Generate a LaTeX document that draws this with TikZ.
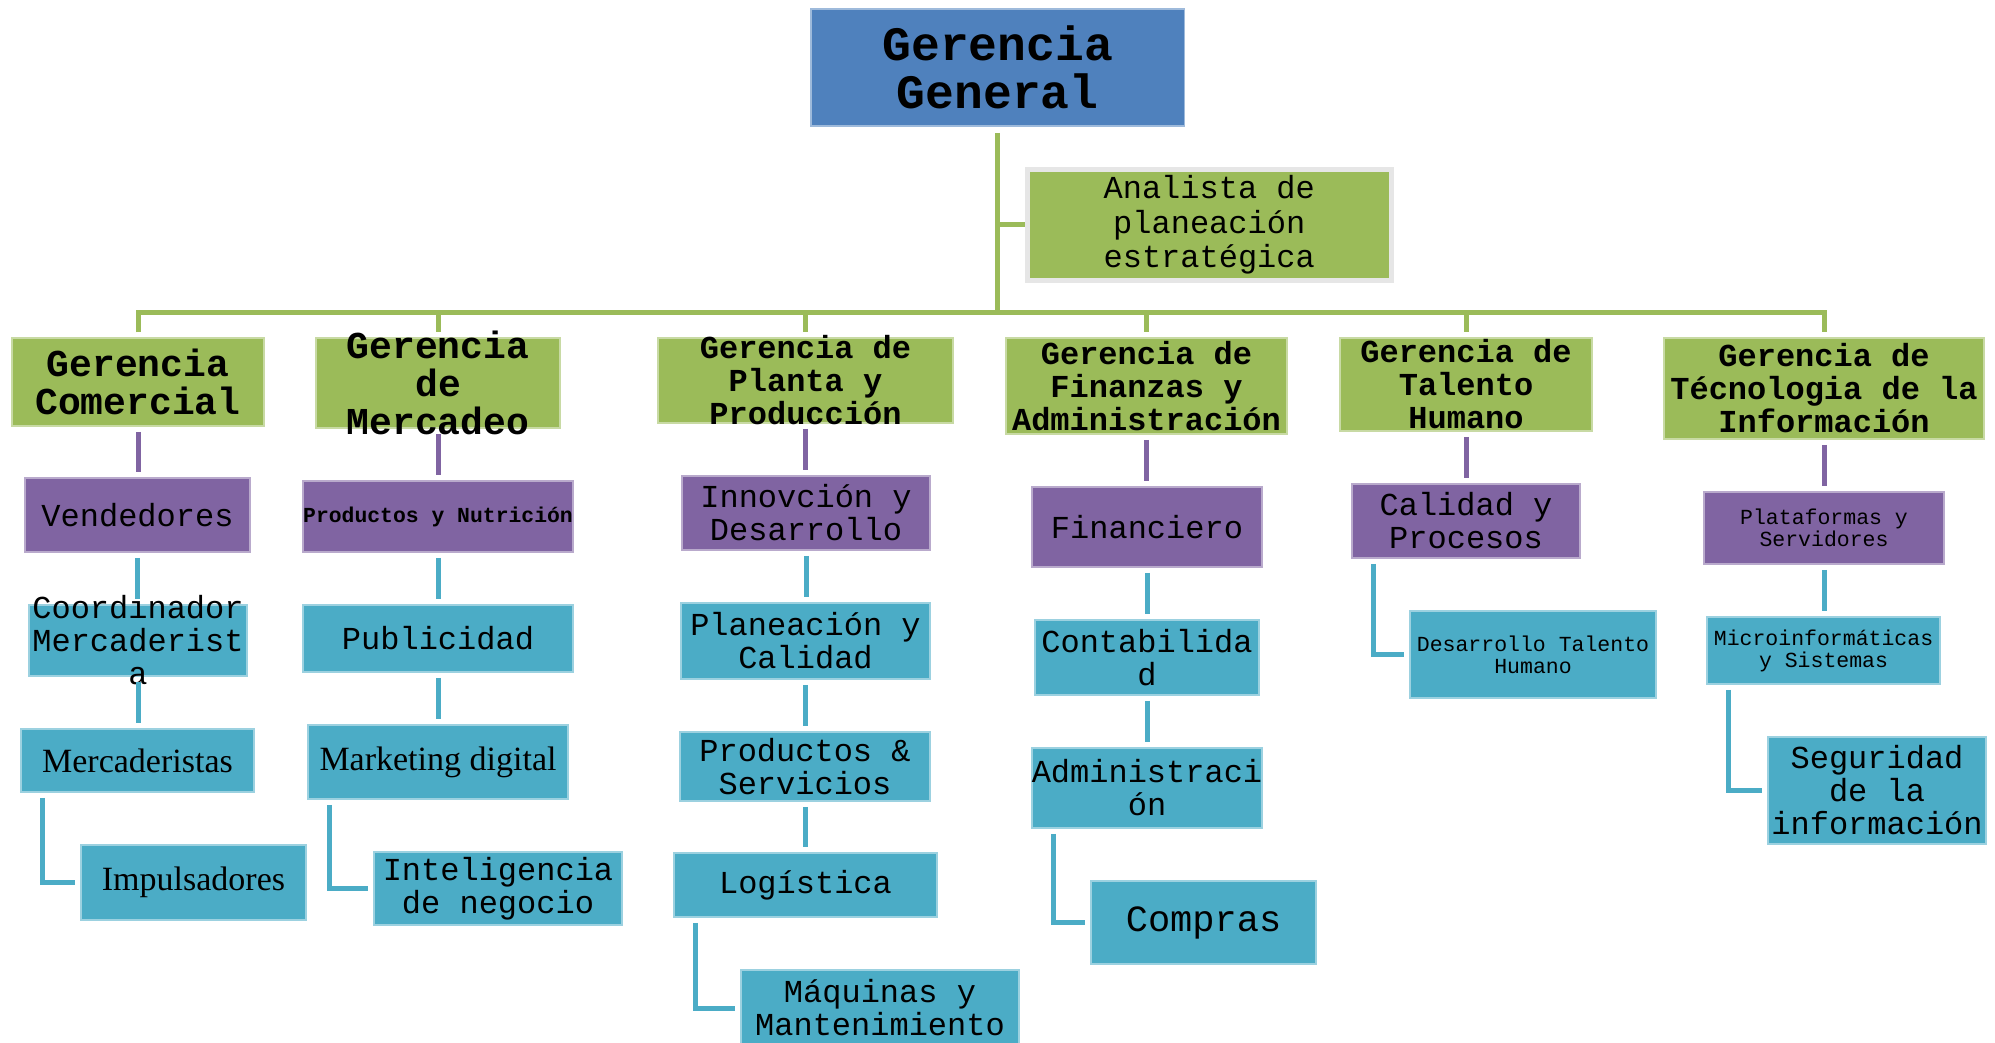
\documentclass[tikz,border=0pt]{standalone}
\usepackage{fontspec}
\setmonofont{Liberation Mono}
\newfontfamily\serifa{Liberation Serif}
\usetikzlibrary{fit}
\definecolor{azul}{HTML}{4F81BD}
\definecolor{verde}{HTML}{9BBB59}
\definecolor{morado}{HTML}{8064A2}
\definecolor{celeste}{HTML}{4BACC6}
\definecolor{gris}{RGB}{230,230,230}
\tikzset{
  caja/.style={rectangle, fill=#1, draw=#1!55!white, line width=1.5pt, inner sep=0pt},
  lv/.style={draw=verde, line width=5pt},
  lm/.style={draw=morado, line width=5pt},
  lc/.style={draw=celeste, line width=5pt},
  tg/.style={font=\ttfamily\bfseries\fontsize{48}{48}\selectfont, align=center},
  tb/.style={font=\ttfamily\bfseries\fontsize{38}{38}\selectfont, align=center},
  tn/.style={font=\ttfamily\bfseries\fontsize{32}{33}\selectfont, align=center},
  tx/.style={font=\ttfamily\fontsize{32}{33}\selectfont, align=center},
  tp/.style={font=\ttfamily\fontsize{21.5}{22}\selectfont, align=center},
  ts/.style={font=\serifa\fontsize{34}{36}\selectfont, align=center}
}
\begin{document}
\begin{tikzpicture}[x=1pt, y=-1pt] %Escala en pixeles, y hacia abajo
  \useasboundingbox (0,0) rectangle (1995,1042);
    %Gerencia general
  \node[caja=azul, fit={(811,9) (1184.5,126)}, label={[tg]center:Gerencia\\General}] (gg) {};
  \node[caja=verde, draw=gris, line width=5pt, fit={(1027.5,169.5) (1391,280)},
        label={[font=\ttfamily\fontsize{32}{34.5}\selectfont, align=center]center:Analista de\\planeación\\estratégica}] (an) {};
    %Gerencias
  \node[caja=verde, fit={(12,338) (264,426)}, label={[tb]center:Gerencia\\Comercial}] (gc) {};
  \node[caja=verde, fit={(316,338) (560,428)}, label={[tb]center:Gerencia\\de\\Mercadeo}] (gme) {};
  \node[caja=verde, fit={(658,338) (953,423)}, label={[tn]center:Gerencia de\\Planta y\\Producción}] (gp) {};
  \node[caja=verde, fit={(1006,338) (1287,434)}, label={[tn]center:Gerencia de\\Finanzas y\\Administración}] (gf) {};
  \node[caja=verde, fit={(1340,338) (1592,431)}, label={[tn]center:Gerencia de\\Talento\\Humano}] (gt) {};
  \node[caja=verde, fit={(1664,338) (1984,439)}, label={[tn]center:Gerencia de\\Técnologia de la\\Información}] (gti) {};
    %Jefaturas
  \node[caja=morado, fit={(25,478) (250,552)}, label={[tx]center:Vendedores}] (ven) {};
  \node[caja=morado, fit={(303,481) (573,552)}, label={[font=\ttfamily\bfseries\fontsize{21.4}{22}\selectfont]center:Productos y Nutrición}] (pn) {};
  \node[caja=morado, fit={(682,476) (930,550)}, label={[tx]center:Innovción y\\Desarrollo}] (inn) {};
  \node[caja=morado, fit={(1032,487) (1262,567)}, label={[tx]center:Financiero}] (fin) {};
  \node[caja=morado, fit={(1352,484) (1580,558)}, label={[tx]center:Calidad y\\Procesos}] (cal) {};
  \node[caja=morado, fit={(1704,492) (1944,564)}, label={[tp]center:Plataformas y\\Servidores}] (pla) {};
    %Cargos
  \node[caja=celeste, fit={(29,605) (247,676)}, label={[tx]center:Coordinador\\Mercaderist\\a}] (coo) {};
  \node[caja=celeste, fit={(21,729) (254,792)}, label={[ts]center:Mercaderistas}] (mer) {};
  \node[caja=celeste, fit={(81,845) (306,920)}, label={[ts]center:Impulsadores}] (imp) {};
  \node[caja=celeste, fit={(303,605) (573,672)}, label={[tx]center:Publicidad}] (pub) {};
  \node[caja=celeste, fit={(308,725) (568,799)}, label={[ts]center:Marketing digital}] (mkt) {};
  \node[caja=celeste, fit={(374,852) (622,925)}, label={[tx]center:Inteligencia\\de negocio}] (int) {};
  \node[caja=celeste, fit={(681,603) (930,679)}, label={[tx]center:Planeación y\\Calidad}] (plc) {};
  \node[caja=celeste, fit={(680,732) (930,801)}, label={[tx]center:Productos \&\\Servicios}] (ps) {};
  \node[caja=celeste, fit={(674,853) (937,917)}, label={[tx]center:Logística}] (log) {};
  \node[caja=celeste, fit={(741,970) (1019,1046)}, label={[tx]center:Máquinas y\\Mantenimiento}] (maq) {};
  \node[caja=celeste, fit={(1035,620) (1259,695)}, label={[tx]center:Contabilida\\d}] (con) {};
  \node[caja=celeste, fit={(1032,748) (1262,828)}, label={[tx]center:Administraci\\ón}] (adm) {};
  \node[caja=celeste, fit={(1091,881) (1316,964)}, label={[font=\ttfamily\fontsize{37}{38}\selectfont]center:Compras}] (com) {};
  \node[caja=celeste, fit={(1410,611) (1656,698)}, label={[tp]center:Desarrollo Talento\\Humano}] (des) {};
  \node[caja=celeste, fit={(1707,617) (1940,684)}, label={[tp]center:Microinformáticas\\y Sistemas}] (mic) {};
  \node[caja=celeste, fit={(1768,737) (1986,844)}, label={[tx]center:Seguridad\\de la\\información}] (seg) {};
    %Conectores verdes
  \coordinate (barra) at (998,312);
  \draw[lv, shorten <=6pt] (gg.south) -- (gg.south |- barra);
  \draw[lv] (gg.south |- an.west) -- (an.west);
  \draw[lv, shorten <=5pt, shorten >=5pt] (gc.north) -- (gc.north |- barra) -- (gti.north |- barra) -- (gti.north);
  \foreach \g in {gme,gp,gf,gt}
    \draw[lv, shorten >=5pt] (\g.north |- barra) -- (\g.north);
    %Conectores morados
  \foreach \a/\b in {gc/ven,gme/pn,gp/inn,gf/fin,gt/cal,gti/pla}
    \draw[lm, shorten <=5pt, shorten >=5pt] (\a.south) -- (\a.south |- \b.north);
    %Conectores celestes
  \foreach \a/\b in {ven/coo,coo/mer,pn/pub,pub/mkt,inn/plc,plc/ps,ps/log,fin/con,con/adm,pla/mic}
    \draw[lc, shorten <=5pt, shorten >=5pt] (\a.south) -- (\a.south |- \b.north);
  \foreach \a/\b in {mer/imp,mkt/int,log/maq,adm/com,cal/des,mic/seg}
    \draw[lc, shorten <=5pt, shorten >=5pt] ([xshift=22pt]\a.south west) |- (\b.west);
\end{tikzpicture}
\end{document}
